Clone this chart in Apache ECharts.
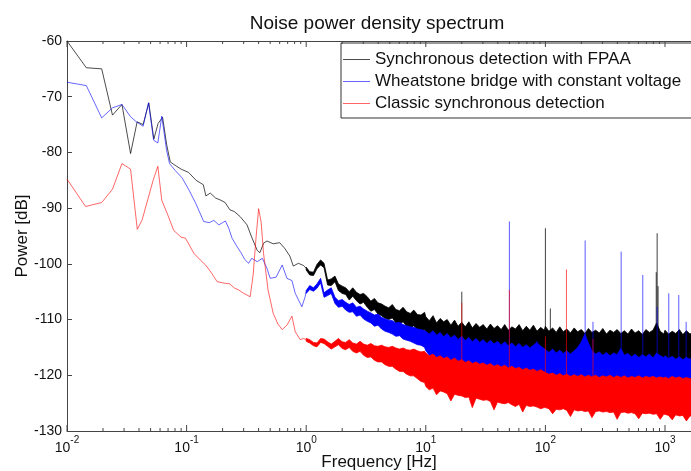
<!DOCTYPE html>
<html><head><meta charset="utf-8">
<script src="https://cdn.jsdelivr.net/npm/echarts@6/dist/echarts.min.js"></script>
<style>html,body{margin:0;padding:0;background:#fff}#c{width:691px;height:471px}</style>
</head><body><div id="c"></div>
<script>
const FONT = 'Liberation Sans, Arial, sans-serif';
const titleText = 'Noise power density spectrum';
const xName = 'Frequency [Hz]';
const yName = 'Power [dB]';
const seriesNames = ['Synchronous detection with FPAA','Wheatstone bridge with constant voltage','Classic synchronous detection'];
const xTickExps = {'-2':'-2','-1':'-1','0':'0','1':'1','2':'2','3':'3'};
const yTicks = [-130,-120,-110,-100,-90,-80,-70,-60];

// low-frequency part of each spectrum: [Hz, dB]
const fpaaCurve = [[0.01,-60.0],[0.0145,-64.8],[0.0195,-65.0],[0.024,-73.3],[0.0288,-71.4],[0.034,-80.2],[0.0386,-74.5],[0.0433,-75.0],[0.0483,-71.1],[0.0532,-77.6],[0.0578,-74.8],[0.063,-73.7],[0.068,-78.5],[0.073,-81.7],[0.08,-82.3],[0.09,-83.0],[0.104,-83.6],[0.12,-85.0],[0.138,-85.8],[0.145,-87.8],[0.158,-87.3],[0.175,-88.2],[0.19,-88.5],[0.21,-89.0],[0.23,-90.3],[0.25,-90.6],[0.28,-91.5],[0.32,-93.0],[0.35,-95.2],[0.39,-97.6],[0.41,-98.0],[0.44,-96.3],[0.47,-95.9],[0.53,-96.4],[0.6,-96.2],[0.66,-97.2],[0.73,-98.6],[0.78,-100.4],[0.86,-99.9],[0.95,-100.3],[1.0,-100.8]];
const wheatCurve = [[0.01,-67.4],[0.0145,-68.0],[0.0195,-73.8],[0.024,-72.0],[0.0288,-71.4],[0.034,-73.6],[0.038,-74.5],[0.0433,-75.3],[0.048,-71.1],[0.053,-77.8],[0.0575,-78.3],[0.062,-73.5],[0.068,-79.6],[0.072,-82.0],[0.08,-83.2],[0.092,-84.6],[0.105,-86.8],[0.119,-89.1],[0.139,-92.4],[0.155,-92.6],[0.169,-92.2],[0.186,-93.0],[0.2,-92.6],[0.211,-92.3],[0.225,-93.6],[0.24,-95.4],[0.264,-96.9],[0.285,-98.0],[0.306,-99.2],[0.33,-99.9],[0.35,-99.0],[0.39,-99.6],[0.43,-99.0],[0.47,-100.8],[0.50,-102.6],[0.56,-102.4],[0.63,-100.2],[0.69,-102.6],[0.76,-103.0],[0.81,-105.3],[0.92,-107.7],[0.98,-105.9],[1.0,-105.0]];
const classicCurve = [[0.01,-84.8],[0.0143,-89.7],[0.0195,-89.0],[0.024,-86.6],[0.0288,-82.0],[0.034,-83.0],[0.0387,-93.8],[0.0425,-92.1],[0.048,-88.0],[0.0525,-85.0],[0.0575,-82.5],[0.062,-88.6],[0.069,-91.0],[0.078,-94.0],[0.09,-95.2],[0.098,-95.4],[0.115,-98.1],[0.13,-99.3],[0.144,-100.2],[0.16,-101.5],[0.169,-102.3],[0.18,-103.2],[0.2,-103.4],[0.211,-103.5],[0.23,-103.6],[0.25,-104.3],[0.273,-104.7],[0.30,-105.3],[0.32,-105.6],[0.34,-105.9],[0.36,-102.0],[0.38,-95.5],[0.40,-90.1],[0.42,-92.5],[0.44,-98.1],[0.48,-104.7],[0.53,-108.9],[0.58,-110.8],[0.63,-111.8],[0.69,-111.0],[0.76,-109.4],[0.81,-112.2],[0.89,-113.6],[0.95,-113.4],[1.0,-113.6]];

// dense (noisy) part: shared frequency grid, upper and lower envelope of each trace
const bandFreq = [1.00,1.07,1.15,1.23,1.32,1.41,1.51,1.62,1.74,1.86,2.00,2.14,2.29,2.45,2.63,2.82,3.02,3.24,3.47,3.72,3.98,4.27,4.57,4.90,5.25,5.62,6.03,6.46,6.92,7.41,7.94,8.51,9.12,9.77,
10.0,10.7,11.5,12.3,13.2,14.1,15.1,16.2,17.4,18.6,20.0,21.4,22.9,24.5,26.3,28.2,30.2,32.4,34.7,37.2,39.8,42.7,45.7,49.0,52.5,56.2,60.3,64.6,69.2,74.1,79.4,85.1,91.2,97.7,
100,107,115,123,132,141,151,162,174,186,200,214,229,245,263,282,302,324,347,372,398,427,457,490,525,562,603,646,692,741,794,851,912,977,
1000,1070,1150,1230,1320,1410,1510,1620,1740];

const fpaaHi = [-100.6,-101.4,-101.5,-100.1,-99.3,-99.9,-102.9,-102.7,-102.2,-103.6,-104.0,-104.3,-105.0,-104.3,-105.1,-105.5,-105.3,-105.9,-106.7,-106.2,-107.0,-107.2,-107.6,-107.9,-107.3,-108.2,-108.4,-107.8,-108.6,-108.9,-108.3,-109.1,-109.2,-108.7,
-109.5,-110.2,-109.3,-110.6,-109.8,-110.4,-110.0,-111.0,-110.1,-111.2,-110.5,-111.3,-110.4,-111.5,-110.7,-111.4,-110.9,-111.7,-110.8,-111.6,-111.1,-111.8,-110.9,-111.9,-111.3,-111.7,-110.9,-112.0,-111.2,-111.9,-111.0,-112.1,-111.4,-111.9,
-111.2,-112.1,-111.5,-112.3,-111.3,-112.2,-111.7,-112.4,-111.5,-112.2,-111.8,-112.5,-111.6,-112.3,-111.9,-112.4,-111.6,-112.6,-111.9,-112.3,-111.8,-112.5,-112.0,-112.6,-111.7,-112.4,-112.0,-112.7,-111.8,-112.3,-111.9,-110.6,-112.1,-112.6,
-111.9,-112.6,-112.1,-112.5,-111.8,-112.7,-112.0,-112.6,-112.1];
const fpaaLo = [-101.1,-102.0,-102.1,-100.9,-100.2,-100.7,-103.8,-103.9,-103.2,-104.8,-105.3,-105.5,-106.5,-105.8,-106.6,-107.2,-106.9,-107.8,-108.5,-108.2,-109.0,-109.3,-109.8,-110.0,-109.7,-110.6,-110.8,-110.4,-111.2,-111.5,-111.1,-111.9,-112.1,-111.8,
-112.6,-113.6,-113.9,-114.4,-114.6,-115.1,-115.2,-115.6,-115.7,-116.0,-116.1,-116.4,-116.4,-116.7,-116.7,-117.0,-116.9,-117.2,-117.1,-117.4,-117.3,-117.5,-117.4,-117.6,-117.5,-117.7,-117.6,-117.8,-117.7,-117.8,-117.7,-117.9,-117.8,-118.0,
-118.0,-118.1,-118.0,-118.2,-118.1,-118.2,-118.1,-118.3,-118.2,-118.3,-118.2,-118.3,-118.2,-118.4,-118.3,-118.4,-118.3,-118.4,-118.3,-118.4,-118.3,-118.5,-118.4,-118.5,-118.4,-118.5,-118.4,-118.5,-118.4,-118.5,-118.4,-118.5,-118.4,-118.5,
-118.5,-118.5,-118.5,-118.5,-118.5,-118.5,-118.5,-118.5,-118.5];

const wheatHi = [-104.8,-103.9,-104.3,-103.6,-102.6,-105.2,-104.7,-104.3,-106.0,-106.6,-106.4,-106.9,-107.3,-107.0,-107.8,-107.6,-108.1,-108.5,-108.8,-109.2,-109.0,-109.6,-109.9,-110.1,-110.2,-110.6,-110.5,-110.9,-111.1,-111.3,-111.4,-111.7,-111.8,-112.0,
-112.1,-112.6,-112.0,-112.8,-112.3,-113.1,-112.5,-113.3,-112.8,-113.6,-113.0,-113.8,-113.2,-114.0,-113.4,-114.1,-113.6,-114.3,-113.7,-114.4,-113.9,-114.6,-114.0,-114.7,-114.2,-114.9,-114.3,-115.0,-114.5,-115.1,-114.6,-114.1,-114.8,-115.2,
-115.4,-115.9,-115.3,-116.0,-115.5,-116.1,-115.6,-116.2,-115.6,-115.0,-114.0,-112.6,-114.2,-115.6,-116.2,-115.8,-116.4,-115.9,-116.5,-116.0,-116.3,-115.2,-116.4,-116.1,-116.7,-116.2,-116.8,-116.3,-116.7,-116.2,-116.9,-116.0,-116.5,-116.8,
-116.5,-117.0,-116.6,-117.1,-116.7,-117.2,-116.8,-117.1,-116.9];
const wheatLo = [-105.3,-104.6,-104.9,-104.4,-103.4,-106.0,-105.7,-105.3,-107.1,-107.8,-107.6,-108.3,-108.7,-108.6,-109.4,-109.2,-109.9,-110.3,-110.6,-111.2,-111.0,-111.7,-112.1,-112.3,-112.6,-113.0,-112.9,-113.5,-113.7,-113.9,-114.2,-114.5,-114.6,-115.0,
-115.6,-116.4,-116.9,-117.3,-117.6,-117.9,-118.1,-118.4,-118.6,-118.8,-119.0,-119.2,-119.3,-119.5,-119.6,-119.7,-119.9,-120.0,-120.1,-120.2,-120.3,-120.4,-120.4,-120.5,-120.6,-120.6,-120.7,-120.7,-120.8,-120.8,-120.9,-120.9,-121.0,-121.0,
-121.1,-121.1,-121.2,-121.2,-121.2,-121.3,-121.3,-121.3,-121.3,-121.4,-121.4,-121.4,-121.4,-121.4,-121.4,-121.5,-121.5,-121.5,-121.5,-121.5,-121.5,-121.5,-121.5,-121.5,-121.5,-121.5,-121.5,-121.5,-121.5,-121.5,-121.5,-121.5,-121.5,-121.5,
-121.5,-121.5,-121.5,-121.5,-121.5,-121.5,-121.5,-121.5,-121.5];

const classicHi = [-113.4,-113.6,-114.1,-114.2,-113.4,-113.5,-114.0,-114.4,-113.9,-113.4,-114.0,-114.1,-113.6,-114.2,-114.4,-113.9,-114.4,-114.6,-114.3,-114.7,-114.8,-114.6,-114.9,-115.0,-114.8,-115.1,-115.3,-115.1,-115.4,-115.5,-115.3,-115.6,-115.8,-115.7,
-116.0,-116.5,-116.2,-116.8,-116.5,-117.0,-116.7,-117.3,-116.9,-117.5,-117.2,-117.7,-117.4,-117.9,-117.6,-118.0,-117.8,-118.2,-117.9,-118.4,-118.1,-118.5,-118.2,-118.7,-118.4,-118.8,-118.6,-119.0,-118.7,-119.1,-118.9,-119.3,-119.0,-119.4,
-119.5,-119.8,-119.6,-120.0,-119.7,-120.1,-119.8,-120.2,-119.9,-120.2,-119.9,-120.3,-120.0,-120.3,-120.0,-120.4,-120.1,-120.3,-120.0,-120.4,-120.1,-120.4,-120.1,-120.5,-120.2,-120.4,-120.1,-120.5,-120.2,-120.4,-120.2,-120.5,-120.3,-120.5,
-120.3,-120.6,-120.2,-120.5,-120.3,-120.6,-120.4,-120.6,-120.4];
const classicLo = [-113.9,-114.2,-114.7,-114.9,-114.1,-114.3,-114.8,-115.3,-114.9,-114.5,-115.2,-115.4,-115.0,-115.7,-116.0,-115.7,-116.4,-116.8,-116.7,-117.3,-117.6,-117.6,-118.1,-118.4,-118.4,-118.9,-119.3,-119.3,-119.8,-120.1,-120.1,-120.6,-121.1,-121.3,
-122.0,-122.6,-122.3,-123.5,-122.8,-123.0,-123.3,-124.6,-123.4,-123.6,-123.7,-124.0,-123.9,-125.8,-124.1,-124.3,-124.5,-124.4,-124.7,-126.2,-124.8,-125.0,-125.1,-124.9,-125.3,-125.6,-125.2,-126.6,-125.4,-125.6,-125.5,-125.7,-126.0,-125.8,
-125.8,-126.0,-126.9,-126.1,-126.2,-126.0,-126.3,-127.4,-126.2,-126.4,-126.3,-126.5,-126.4,-127.6,-126.5,-126.4,-126.6,-126.5,-126.7,-126.6,-127.9,-126.7,-126.6,-126.8,-126.7,-126.9,-127.8,-126.8,-126.9,-126.8,-127.0,-126.9,-127.9,-127.0,
-127.0,-127.2,-128.0,-127.1,-127.3,-127.2,-128.2,-127.3,-127.4];

// narrow spectral lines: [Hz, top dB, base dB]
const fpaaSpikes = [[20,-105.0,-117],[100,-93.6,-118],[110,-108.0,-118],[845,-101.5,-118],[860,-94.5,-118],[875,-104.0,-118]];
const wheatSpikes = [[50,-92.4,-120],[85,-113.8,-120],[215,-95.8,-120],[250,-110.4,-120],[430,-97.8,-120],[652,-102.0,-120],[860,-107.7,-120],[1076,-105.3,-120],[1304,-105.6,-120],[1503,-110.4,-120]];
const classicSpikes = [[20,-107.0,-123],[50,-104.7,-123],[100,-113.0,-123],[150,-101.0,-123],[250,-113.5,-123]];

const X_MIN = 0.01, X_MAX = 1650;
const decades = [0.01,0.1,1,10,100,1000];
const minorMult = [2,3,4,5,6,7,8,9];

const COLORS = ['#000000','#0000ff','#ff0000'];
const THIN = ['rgba(0,0,0,0.7)','rgba(0,0,255,0.6)','rgba(255,0,0,0.6)'];

function curve(name, data, color) {
  return {type:'line', name, data, color, showSymbol:false, symbol:'none', lineStyle:{width:1, color}, itemStyle:{color}, animation:false, silent:true, z:2};
}
function band(name, hi, lo, color) {
  return {type:'custom', name, coordinateSystem:'cartesian2d', data:[[1, hi[0]]], encode:{x:0,y:1}, silent:true, clip:true, z:2,
    renderItem: function(params, api) {
      const pts = [];
      for (let i = 0; i < bandFreq.length; i++) pts.push(api.coord([bandFreq[i], hi[i]]));
      for (let i = bandFreq.length - 1; i >= 0; i--) pts.push(api.coord([bandFreq[i], lo[i]]));
      return {type:'polygon', shape:{points:pts}, style:{fill:color, stroke:color, lineWidth:0.8}};
    }};
}
function spikes(name, data, color) {
  return {type:'custom', name, coordinateSystem:'cartesian2d', data, encode:{x:0,y:[1,2]}, silent:true, clip:true, z:2,
    renderItem: function(params, api) {
      const a = api.coord([api.value(0), api.value(1)]);
      const b = api.coord([api.value(0), api.value(2)]);
      return {type:'line', shape:{x1:a[0], y1:a[1], x2:b[0], y2:b[1]}, style:{stroke:color, lineWidth:1}};
    }};
}
const tickData = [];
decades.forEach(d => { tickData.push([d, 6]); minorMult.forEach(m => { if (d*m < X_MAX) tickData.push([d*m, 3]); }); });
const tickSeries = {type:'custom', name:'ticks', coordinateSystem:'cartesian2d', data:tickData.map(t => [t[0], -130, t[1]]), encode:{x:0,y:1}, silent:true, clip:false, z:5,
  renderItem: function(params, api) {
    const f = api.value(0), len = api.value(2);
    const b = api.coord([f, -130]), t = api.coord([f, -60]);
    return {type:'group', children:[
      {type:'line', shape:{x1:b[0], y1:b[1], x2:b[0], y2:b[1]-len}, style:{stroke:'#444', lineWidth:1}},
      {type:'line', shape:{x1:t[0], y1:t[1], x2:t[0], y2:t[1]+len}, style:{stroke:'#444', lineWidth:1}}
    ]};
  }};

const chart = echarts.init(document.getElementById('c'), null, {renderer:'canvas'});
chart.setOption({
  animation:false,
  backgroundColor:'#fff',
  title:{text:titleText, left:377, top:14, textAlign:'center', padding:0, textStyle:{fontFamily:FONT, fontSize:19, fontWeight:'normal', color:'#111'}},
  grid:{left:67, top:41, width:624, height:390, show:false, containLabel:false, outerBoundsMode:'none'},
  legend:{data:seriesNames, orient:'vertical', left:341, top:43, padding:[8,40,6,2], itemGap:5, itemWidth:27, itemHeight:1, icon:'rect',
    backgroundColor:'#fff', borderColor:'#333', borderWidth:1, selectedMode:false,
    textStyle:{fontFamily:FONT, fontSize:17, color:'#111', lineHeight:17}},
  xAxis:[{type:'log', logBase:10, min:X_MIN, max:X_MAX, name:xName, nameLocation:'middle', nameGap:23, nameMoveOverlap:false,
    nameTextStyle:{fontFamily:FONT, fontSize:17, color:'#111'},
    axisLine:{show:true, lineStyle:{color:'#444'}}, axisTick:{show:false}, splitLine:{show:false}, minorTick:{show:false},
    axisLabel:{show:true, interval:0, showMaxLabel:false, margin:4, color:'#111',
      formatter: v => { const e = String(Math.round(Math.log10(v))); return '{b|10}{s|' + (xTickExps[e] || e) + '}'; },
      rich:{b:{fontFamily:FONT, fontSize:14, color:'#111', verticalAlign:'bottom', lineHeight:20}, s:{fontFamily:FONT, fontSize:10, color:'#111', verticalAlign:'top', lineHeight:10}}}},
   {type:'log', logBase:10, min:X_MIN, max:X_MAX, position:'top', axisLine:{show:true, lineStyle:{color:'#444'}}, axisTick:{show:false}, axisLabel:{show:false}, splitLine:{show:false}}],
  yAxis:{type:'value', min:-130, max:-60, interval:10, name:yName, nameLocation:'middle', nameGap:36, nameRotate:90, nameMoveOverlap:false,
    nameTextStyle:{fontFamily:FONT, fontSize:17, color:'#111'},
    axisLine:{show:true, lineStyle:{color:'#444'}}, axisTick:{show:true, inside:true, length:5, lineStyle:{color:'#444'}}, splitLine:{show:false},
    axisLabel:{fontFamily:FONT, fontSize:14, color:'#111', margin:5}},
  series:[
    curve(seriesNames[0], fpaaCurve, THIN[0]),
    band('fpaaBand', fpaaHi, fpaaLo, COLORS[0]),
    spikes('fpaaSpikes', fpaaSpikes, 'rgba(0,0,0,0.75)'),
    curve(seriesNames[1], wheatCurve, THIN[1]),
    band('wheatBand', wheatHi, wheatLo, COLORS[1]),
    spikes('wheatSpikes', wheatSpikes, 'rgba(0,0,255,0.65)'),
    curve(seriesNames[2], classicCurve, THIN[2]),
    band('classicBand', classicHi, classicLo, COLORS[2]),
    spikes('classicSpikes', classicSpikes, 'rgba(255,0,0,0.65)'),
    tickSeries
  ]
});
</script></body></html>
